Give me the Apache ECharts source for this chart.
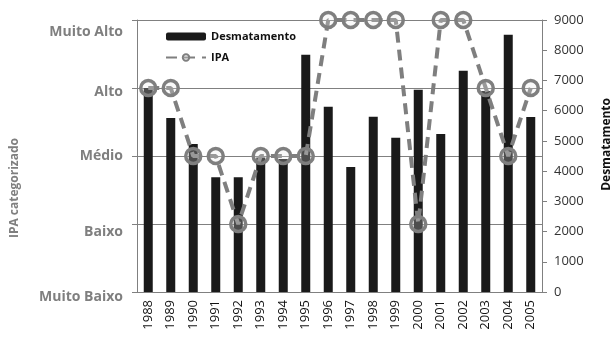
<!DOCTYPE html>
<html><head><meta charset="utf-8">
<script src="https://cdn.jsdelivr.net/npm/echarts@6/dist/echarts.min.js"></script>
<style>html,body{margin:0;padding:0;background:#fff}#c{width:616px;height:340px}</style>
</head><body><div id="c"></div>
<script>
const years = ['1988','1989','1990','1991','1992','1993','1994','1995','1996','1997','1998','1999','2000','2001','2002','2003','2004','2005'];
const desmatamento = [6750,5760,4900,3800,3800,4450,4400,7850,6130,4140,5800,5100,6690,5230,7320,6650,8510,5790];
const ipa = [3,3,2,2,1,2,2,2,4,4,4,4,1,4,4,3,2,3];
const ipaLevels = ['Muito Baixo','Baixo','Médio','Alto','Muito Alto'];
const desmTicks = [0,1000,2000,3000,4000,5000,6000,7000,8000,9000];

const chart = echarts.init(document.getElementById('c'));
const FONT = 'Open Sans';
const levelPad = [5,8,0,4,12];
const rich = {};
ipaLevels.forEach((l,i)=>{ rich['l'+i] = {padding:[levelPad[i]*2,0,0,0], color:'#7f7f7f', fontWeight:'bold', fontSize:14, fontFamily:FONT}; });
chart.setOption({
  animation:false,
  textStyle:{fontFamily:FONT},
  grid:{left:137,right:74,top:20,bottom:48},
  legend:{
    orient:'vertical', left:160, top:26, itemGap:10, itemWidth:40, itemHeight:8,
    textStyle:{fontFamily:FONT,fontWeight:'bold',fontSize:11,color:'#111'},
    data:['Desmatamento','IPA']
  },
  graphic:[
    {type:'text', left:9, top:138, rotation:Math.PI/2,
     style:{text:'IPA categorizado', font:'bold 12px "Open Sans"', fill:'#7f7f7f'}},
    {type:'text', left:601, top:98, rotation:Math.PI/2,
     style:{text:'Desmatamento', font:'bold 12px "Open Sans"', fill:'#111'}}
  ],
  xAxis:{
    type:'category', data:years, boundaryGap:true,
    axisLine:{lineStyle:{color:'#808080',width:1}},
    axisTick:{show:false},
    axisLabel:{rotate:90, color:'#111', fontSize:13, margin:8, fontFamily:FONT}
  },
  yAxis:[
    {type:'value', min:0, max:4, interval:1, position:'left',
     axisLine:{show:true,lineStyle:{color:'#808080'}},
     axisTick:{show:true,length:5,lineStyle:{color:'#808080'}},
     splitLine:{show:true,lineStyle:{color:'#808080',width:1}},
     axisLabel:{margin:14, formatter:(v)=>'{l'+v+'|'+ipaLevels[v]+'}', rich:rich}
    },
    {type:'value', min:0, max:9000, interval:1000, position:'right',
     axisLine:{show:true,lineStyle:{color:'#808080'}},
     axisTick:{show:true,length:5,lineStyle:{color:'#808080'}},
     splitLine:{show:false},
     axisLabel:{margin:12,color:'#333',fontSize:13,fontFamily:FONT,
       formatter:(v)=>desmTicks.indexOf(v)>=0?String(v):''}
    }
  ],
  series:[
    {name:'Desmatamento', type:'bar', yAxisIndex:1, data:desmatamento, barWidth:9,
     itemStyle:{color:'#1a1a1a'}, z:2},
    {name:'IPA', type:'line', yAxisIndex:0, data:ipa, symbol:'circle', symbolSize:15,
     lineStyle:{color:'#7f7f7f',width:4,type:[11,7]},
     itemStyle:{color:'rgba(230,230,230,0.25)',borderColor:'#7f7f7f',borderWidth:3.5}, z:3}
  ]
});
</script></body></html>
